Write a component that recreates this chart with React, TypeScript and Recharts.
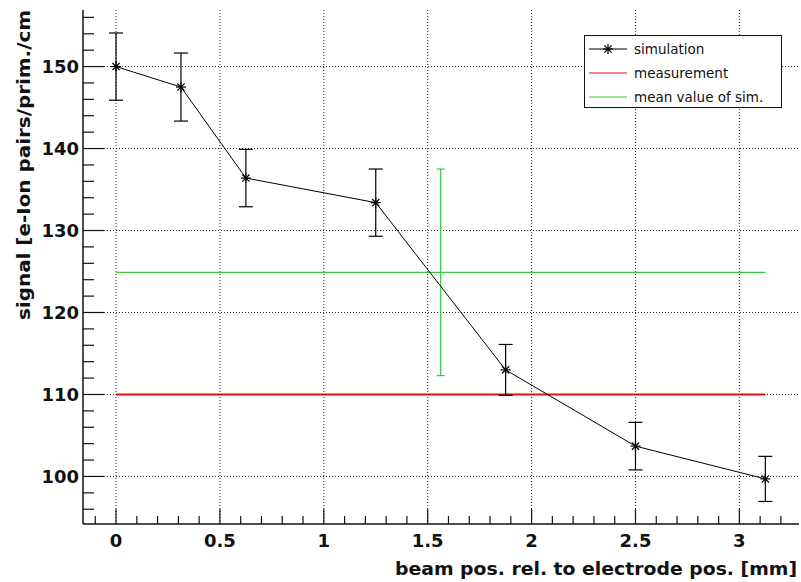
import React from "react";
import {
  ComposedChart,
  Line,
  Scatter,
  ErrorBar,
  XAxis,
  YAxis,
  ReferenceLine,
  Legend,
  Label
} from "recharts";

// beam positions [mm] and simulated signal with errors
const positions = [0, 0.3125, 0.625, 1.25, 1.875, 2.5, 3.125];
const signal = [150, 147.5, 136.4, 133.4, 113.0, 103.7, 99.7];
const signalErr = [4.1, 4.15, 3.5, 4.1, 3.1, 2.9, 2.75];

const measurement = 110;
const meanX = 1.5625;
const meanXErr = 1.5625;
const meanY = 124.9;
const meanYErr = 12.6;

const xMajor = [0, 0.5, 1, 1.5, 2, 2.5, 3];
const yMajor = [100, 110, 120, 130, 140, 150];
const xMinor = Array.from({ length: 34 }, (_, i) => Math.round((i - 1) * 10) / 100);
const yMinor = Array.from({ length: 31 }, (_, i) => 96 + i * 2);

const xDomain = [-0.159, 3.287];
const yDomain = [94.2, 156.9];

const simData = positions.map((x, i) => ({ x, y: signal[i], err: signalErr[i] }));
const measData = [
  { x: positions[0], y: measurement },
  { x: positions[positions.length - 1], y: measurement }
];
const meanData = [{ x: meanX, y: meanY, ex: meanXErr, ey: meanYErr }];

const legendItems = [
  { name: "simulation", color: "#000000", marker: true },
  { name: "measurement", color: "#dd1111", marker: false },
  { name: "mean value of sim.", color: "#3cc83c", marker: false }
];

const font = "'DejaVu Sans', sans-serif";
const green = "#3cc83c";
const red = "#dd1111";
const tiny = 0.001; // recharts treats a tick size of 0 as unset

const isXMajor = (v: number) => Math.abs(v * 2 - Math.round(v * 2)) < 1e-6;
const isYMajor = (v: number) => Math.abs(v % 10) < 1e-6;

function BottomTick({ x, y, payload }: any) {
  const v = Number(payload.value);
  const major = isXMajor(v);
  return (
    <g>
      <line x1={x} x2={x} y1={y} y2={y - (major ? 15 : 8)} stroke="#111" strokeWidth={1.2} />
      {major && (
        <text x={x} y={y + 23} textAnchor="middle" fontFamily={font} fontWeight="bold" fontSize={18} fill="#111">
          {String(Math.round(v * 10) / 10)}
        </text>
      )}
    </g>
  );
}

function TopTick({ x, y, payload }: any) {
  const major = isXMajor(Number(payload.value));
  return <line x1={x} x2={x} y1={y} y2={y + (major ? 15 : 8)} stroke="#111" strokeWidth={1.2} />;
}

function LeftTick({ x, y, payload }: any) {
  const v = Number(payload.value);
  const major = isYMajor(v);
  return (
    <g>
      <line x1={x} x2={x + (major ? 21 : 11)} y1={y} y2={y} stroke="#111" strokeWidth={1.2} />
      {major && (
        <text x={x - 4} y={y + 6.5} textAnchor="end" fontFamily={font} fontWeight="bold" fontSize={18} fill="#111">
          {v}
        </text>
      )}
    </g>
  );
}

function RightTick({ x, y, payload }: any) {
  const major = isYMajor(Number(payload.value));
  return <line x1={x} x2={x - (major ? 21 : 11)} y1={y} y2={y} stroke="#111" strokeWidth={1.2} />;
}

function Star({ cx, cy }: any) {
  if (cx == null || cy == null) return null;
  const r = 5;
  const d = 3.6;
  return (
    <g stroke="#000" strokeWidth={1.2}>
      <line x1={cx - r} x2={cx + r} y1={cy} y2={cy} />
      <line x1={cx} x2={cx} y1={cy - r} y2={cy + r} />
      <line x1={cx - d} x2={cx + d} y1={cy - d} y2={cy + d} />
      <line x1={cx - d} x2={cx + d} y1={cy + d} y2={cy - d} />
    </g>
  );
}

function LegendBox() {
  return (
    <div
      style={{
        width: 198,
        height: 73,
        boxSizing: "border-box",
        border: "1px solid #111",
        background: "#fff",
        fontFamily: font,
        fontSize: 13.5,
        color: "#111",
        padding: "1px 0 0 4px"
      }}
    >
      {legendItems.map((item) => (
        <div key={item.name} style={{ display: "flex", alignItems: "center", height: 24 }}>
          <svg width={38} height={12} style={{ marginRight: 7 }}>
            <line x1={0} x2={38} y1={6} y2={6} stroke={item.color} strokeWidth={1.2} />
            {item.marker && <Star cx={19} cy={6} />}
          </svg>
          <span>{item.name}</span>
        </div>
      ))}
    </div>
  );
}

function XTitle() {
  return (
    <text
      x={797}
      y={575}
      textAnchor="end"
      fontFamily={font}
      fontWeight="bold"
      fontSize={17.5}
      fill="#111"
      textLength={402}
      lengthAdjust="spacingAndGlyphs"
    >
      beam pos. rel. to electrode pos. [mm]
    </text>
  );
}

function YTitle() {
  return (
    <text
      transform="translate(30, 10) rotate(-90)"
      x={0}
      y={0}
      textAnchor="end"
      fontFamily={font}
      fontWeight="bold"
      fontSize={17.5}
      fill="#111"
      textLength={310}
      lengthAdjust="spacingAndGlyphs"
    >
      signal [e-Ion pairs/prim./cm
    </text>
  );
}

export default function App() {
  return (
    <div style={{ position: "absolute", left: 0, top: 0, width: 801, height: 582, background: "#fff" }}>
      <ComposedChart width={801} height={582} data={simData} margin={{ top: 10, right: 2, bottom: 0, left: 0 }}>
        {xMajor.map((v) => (
          <ReferenceLine key={"gx" + v} x={v} stroke="#222" strokeDasharray="1 2" />
        ))}
        {yMajor.map((v) => (
          <ReferenceLine key={"gy" + v} y={v} stroke="#222" strokeDasharray="1 2" />
        ))}
        <XAxis
          dataKey="x"
          type="number"
          domain={xDomain}
          ticks={xMinor}
          interval={0}
          allowDataOverflow
          height={58}
          tickSize={tiny}
          tickMargin={tiny}
          tickLine={false}
          tick={<BottomTick />}
          axisLine={{ stroke: "#111", strokeWidth: 1.5 }}
        >
          <Label content={<XTitle />} />
        </XAxis>
        <XAxis
          xAxisId="top"
          orientation="top"
          dataKey="x"
          type="number"
          domain={xDomain}
          ticks={xMinor}
          interval={0}
          allowDataOverflow
          height={0}
          tickSize={tiny}
          tickMargin={tiny}
          tickLine={false}
          tick={<TopTick />}
          axisLine={{ stroke: "#111", strokeWidth: 1.5 }}
        />
        <YAxis
          type="number"
          domain={yDomain}
          ticks={yMinor}
          interval={0}
          allowDataOverflow
          width={83}
          tickSize={tiny}
          tickMargin={tiny}
          tickLine={false}
          tick={<LeftTick />}
          axisLine={{ stroke: "#111", strokeWidth: 1.5 }}
        >
          <Label content={<YTitle />} />
        </YAxis>
        <YAxis
          yAxisId="right"
          orientation="right"
          type="number"
          domain={yDomain}
          ticks={yMinor}
          interval={0}
          allowDataOverflow
          width={0}
          tickSize={tiny}
          tickMargin={tiny}
          tickLine={false}
          tick={<RightTick />}
          axisLine={{ stroke: "#111", strokeWidth: 1.5 }}
        />
        <Line
          data={measData}
          dataKey="y"
          name="measurement"
          stroke={red}
          strokeWidth={2}
          dot={false}
          isAnimationActive={false}
        />
        <Scatter
          data={meanData}
          dataKey="y"
          name="mean value of sim."
          fill={green}
          shape={() => <g />}
          isAnimationActive={false}
        >
          <ErrorBar dataKey="ex" direction="x" width={0} stroke={green} strokeWidth={1.2} />
          <ErrorBar dataKey="ey" direction="y" width={4} stroke={green} strokeWidth={1.2} />
        </Scatter>
        <Line
          dataKey="y"
          name="simulation"
          type="linear"
          stroke="#000"
          strokeWidth={1}
          dot={<Star />}
          activeDot={false}
          isAnimationActive={false}
        >
          <ErrorBar dataKey="err" direction="y" width={7} stroke="#000" strokeWidth={1.2} />
        </Line>
        <Legend
          layout="vertical"
          align="center"
          verticalAlign="middle"
          wrapperStyle={{ left: 584, top: 35, width: 198, height: 73 }}
          content={() => <LegendBox />}
        />
      </ComposedChart>
    </div>
  );
}
